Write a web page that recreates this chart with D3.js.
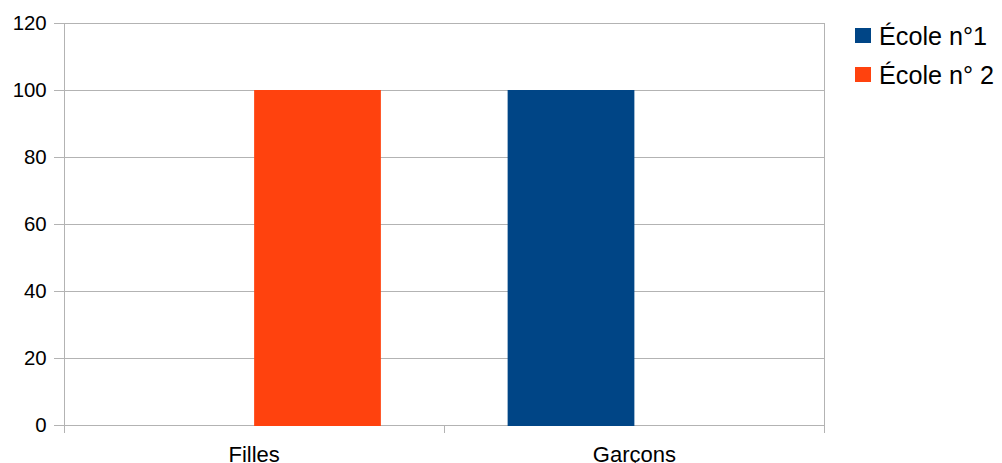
<!DOCTYPE html>
<html><head><meta charset="utf-8">
<script src="https://cdn.jsdelivr.net/npm/d3@7"></script>
<style>
html,body{margin:0;padding:0;background:#fff;}
text{font-family:"Liberation Sans",Arial,sans-serif;fill:#000;}
</style></head>
<body>
<svg id="chart" width="1002" height="463"></svg>
<script>
const categories = ["Filles", "Garçons"];
const seriesNames = ["École n°1", "École n° 2"];
const ecole1 = [0, 100];
const ecole2 = [100, 0];
const yTicks = [0, 20, 40, 60, 80, 100, 120];
const colors = ["#004586", "#ff420e"];

const svg = d3.select("#chart");
const pLeft = 64, pRight = 824.5, pTop = 23, pBottom = 425;
const grid = "#b3b3b3";

const x = d3.scaleBand().domain(categories).range([pLeft, pRight]).paddingInner(0).paddingOuter(0);
const xs = d3.scaleBand().domain(seriesNames).range([0, x.bandwidth()]).paddingInner(0).paddingOuter(0.5);
const y = d3.scaleLinear().domain([0, 120]).range([pBottom, pTop]);

// gridlines
svg.append("g").selectAll("line").data(yTicks).join("line")
  .attr("x1", pLeft - 10).attr("x2", pRight)
  .attr("y1", d => Math.round(y(d)) + 0.5).attr("y2", d => Math.round(y(d)) + 0.5)
  .attr("stroke", grid).attr("stroke-width", 1);

// vertical axis line and right border
svg.append("line").attr("x1", pLeft + 0.5).attr("x2", pLeft + 0.5).attr("y1", pTop).attr("y2", pBottom + 8)
  .attr("stroke", grid);
svg.append("line").attr("x1", pRight).attr("x2", pRight).attr("y1", pTop).attr("y2", pBottom + 8)
  .attr("stroke", grid);
// category boundary tick
categories.slice(1).forEach(c => {
  svg.append("line").attr("x1", Math.round(x(c)) + 0.5).attr("x2", Math.round(x(c)) + 0.5)
    .attr("y1", pBottom).attr("y2", pBottom + 8).attr("stroke", grid);
});

// bars
const data = categories.map((c, i) => ({cat: c, vals: [ecole1[i], ecole2[i]]}));
const g = svg.append("g");
data.forEach(d => {
  d.vals.forEach((v, si) => {
    if (v <= 0) return;
    g.append("rect")
      .attr("x", x(d.cat) + xs(seriesNames[si]))
      .attr("width", xs.bandwidth())
      .attr("y", y(v))
      .attr("height", y(0) - y(v) + 1)
      .attr("fill", colors[si]);
  });
});

// y tick labels
svg.append("g").selectAll("text").data(yTicks).join("text")
  .attr("x", 46.7).attr("y", d => y(d)).attr("dy", "0.36em")
  .attr("text-anchor", "end").style("font-size", "20.4px").text(d => d);

// x labels
svg.append("g").selectAll("text").data(categories).join("text")
  .attr("x", d => x(d) + x.bandwidth() / 2).attr("y", 461.5)
  .attr("text-anchor", "middle").style("font-size", "22px").text(d => d);

// legend
const lg = svg.append("g");
seriesNames.forEach((s, i) => {
  lg.append("rect").attr("x", 855).attr("y", 28 + i * 39).attr("width", 16).attr("height", 15).attr("fill", colors[i]);
  lg.append("text").attr("x", 879).attr("y", 45 + i * 38.5).style("font-size", "25.2px").text(s);
});
</script>
</body></html>
